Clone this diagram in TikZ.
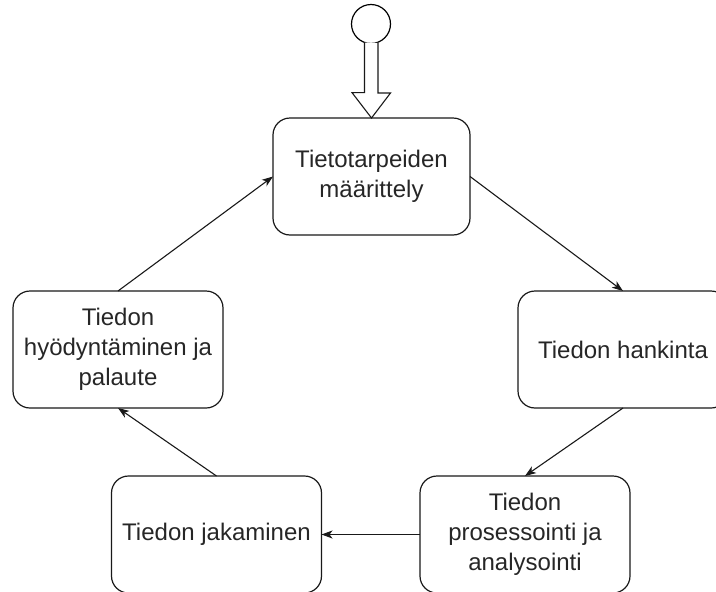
\documentclass[tikz,border=0pt]{standalone}
\usepackage{fontspec}
\setmainfont{Liberation Sans}
\usetikzlibrary{arrows.meta,calc}
\tikzset{
  stagebox/.style={draw=black!90, line width=1.2pt, rounded corners=17pt, align=center,
    text=black!85, font=\fontsize{24}{30}\selectfont, inner sep=0pt, outer sep=0pt},
  flow/.style={draw=black!90, line width=1.1pt, -{Stealth[length=11pt,width=8pt,inset=3pt]}},
  startnode/.style={draw=black, line width=1.2pt, circle, minimum size=39pt, inner sep=0pt},
  hollowarrow/.style={draw=black!90, line width=1.1pt, fill=white, line join=miter}
}
\begin{document}
\begin{tikzpicture}[x=1pt,y=-1pt]
\useasboundingbox (0,0) rectangle (716,592);
\node[startnode] (S) at (371,24) {};
\node[stagebox, minimum width=197pt, minimum height=117pt] (A) at (371.5,176.5) {Tietotarpeiden\\määrittely};
\node[stagebox, minimum width=210pt, minimum height=117pt] (B) at (623,349.5) {Tiedon hankinta};
\node[stagebox, minimum width=210pt, minimum height=117pt] (C) at (525,534.5) {Tiedon\\prosessointi ja\\analysointi};
\node[stagebox, minimum width=210pt, minimum height=117pt] (D) at (216.5,534.5) {Tiedon jakaminen};
\node[stagebox, minimum width=210pt, minimum height=117pt] (E) at (118,349.5) {Tiedon\\hyödyntäminen ja\\palaute};
% hollow start arrow
\path (S.south) ++(-6.5,-1.5) coordinate (h1);
\draw[hollowarrow] (h1) -- ++(0,50) -- ++(-12.5,0) -- (A.north) -- ++(19,-25) -- ++(-12.5,0) -- ++(0,-50);
% cycle connectors
\draw[flow] (A.east) -- (B.north);
\draw[flow] (B.south) -- (C.north);
\draw[flow] (C.west) -- (D.east);
\draw[flow] (D.north) -- (E.south);
\draw[flow] (E.north) -- (A.west);
\end{tikzpicture}
\end{document}
